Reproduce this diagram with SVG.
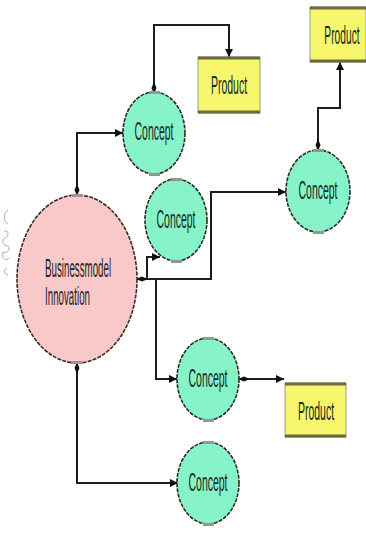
<svg xmlns="http://www.w3.org/2000/svg" width="366" height="533" viewBox="0 0 366 533">
  <style>
    .concept { fill: #86f3c8; stroke: #2a2a2a; stroke-width: 1.6; stroke-dasharray: 4 1.2; }
    .bmi { fill: #f9c9c9; stroke: #3a2a2a; stroke-width: 1.6; stroke-dasharray: 4 1.2; }
    .tab { fill: #8c9a90; }
    .tab-pink { fill: #a89090; }
    .prod { fill: #f7f76e; stroke: #9a9a80; stroke-width: 1; }
    .prod-edge { stroke: #6d6a3e; stroke-width: 3; }
    .lbl { font-family: "Liberation Sans", Arial, sans-serif; font-size: 26px; fill: #2a2222; }
    .clbl { font-family: "Liberation Sans", Arial, sans-serif; font-size: 25px; fill: #1a2a20; text-anchor: middle; }
    .wire { fill: none; stroke: #1e1e1e; stroke-width: 2; }
  </style>
  <defs>
    <marker id="arrow" markerUnits="userSpaceOnUse" markerWidth="10" markerHeight="10" refX="8" refY="4" orient="auto">
      <path d="M0,0 L8,4 L0,8 z" fill="#111"/>
    </marker>
    <marker id="knob" markerUnits="userSpaceOnUse" markerWidth="14" markerHeight="8" refX="1" refY="3" orient="auto">
      <path d="M0,3 L6,0.5 L12,3 L6,5.5 z" fill="#111"/>
    </marker>
  </defs>

  <rect width="366" height="533" fill="#ffffff"/>

  <!-- small pencil sketch at the left margin -->
  <g id="sketch" fill="none" stroke="#999" stroke-width="0.8">
    <path d="M8,210 C3,212 3,222 8,224"/>
    <path d="M4,232 C8,228 10,236 5,238 C1,240 3,246 8,246 C11,250 6,254 3,252 C1,258 7,262 9,258"/>
    <path d="M7,268 C3,270 4,274 8,275"/>
  </g>

  <g id="connectors">
    <path class="wire" d="M154,93 V25 H229 V57" marker-start="url(#knob)" marker-end="url(#arrow)"/>
    <path class="wire" d="M77,195 V133 H123" marker-start="url(#knob)" marker-end="url(#arrow)"/>
    <path class="wire" d="M318,150 V108 H340 V62" marker-start="url(#knob)" marker-end="url(#arrow)"/>
    <path class="wire" d="M137,279 H211 V192 H286" marker-start="url(#knob)" marker-end="url(#arrow)"/>
    <path class="wire" d="M147,279 V257 H160" marker-end="url(#arrow)"/>
    <path class="wire" d="M156,279 V379 H177" marker-end="url(#arrow)"/>
    <path class="wire" d="M77,363 V483 H178" marker-start="url(#knob)" marker-end="url(#arrow)"/>
    <path class="wire" d="M239,379 H284" marker-start="url(#knob)" marker-end="url(#arrow)"/>
  </g>

  <g id="bmi">
    <ellipse class="bmi" cx="77" cy="279" rx="60" ry="84"/>
    <rect class="tab-pink" x="71" y="194" width="12" height="3"/>
    <rect class="tab-pink" x="71" y="361" width="12" height="3"/>
    <text class="lbl" transform="translate(45,277) scale(0.375,1)">Businessmodel</text>
    <text class="lbl" transform="translate(45,305) scale(0.375,1)">Innovation</text>
  </g>

  <g id="concept1">
    <ellipse class="concept" cx="154" cy="133" rx="31" ry="41"/>
    <rect class="tab" x="149" y="91" width="11" height="3"/>
    <rect class="tab" x="149" y="173" width="11" height="3"/>
    <text class="clbl" transform="translate(154,140) scale(0.42,1)">Concept</text>
  </g>

  <g id="concept2">
    <ellipse class="concept" cx="176" cy="220" rx="31" ry="41"/>
    <rect class="tab" x="171" y="178" width="11" height="3"/>
    <rect class="tab" x="171" y="260" width="11" height="3"/>
    <text class="clbl" transform="translate(176,228) scale(0.42,1)">Concept</text>
  </g>

  <g id="concept3">
    <ellipse class="concept" cx="318" cy="191" rx="32" ry="41"/>
    <rect class="tab" x="313" y="149" width="11" height="3"/>
    <rect class="tab" x="313" y="231" width="11" height="3"/>
    <text class="clbl" transform="translate(318,199) scale(0.42,1)">Concept</text>
  </g>

  <g id="concept4">
    <ellipse class="concept" cx="208" cy="379" rx="31" ry="41"/>
    <rect class="tab" x="203" y="337" width="11" height="3"/>
    <rect class="tab" x="203" y="419" width="11" height="3"/>
    <text class="clbl" transform="translate(208,387) scale(0.42,1)">Concept</text>
  </g>

  <g id="concept5">
    <ellipse class="concept" cx="208" cy="483" rx="31" ry="41"/>
    <rect class="tab" x="203" y="441" width="11" height="3"/>
    <rect class="tab" x="203" y="523" width="11" height="3"/>
    <text class="clbl" transform="translate(208,491) scale(0.42,1)">Concept</text>
  </g>

  <g id="product1">
    <rect class="prod" x="198" y="57" width="62" height="56"/>
    <line class="prod-edge" x1="198" y1="58" x2="260" y2="58"/>
    <line class="prod-edge" x1="198" y1="112" x2="260" y2="112"/>
    <text class="clbl" transform="translate(229,94) scale(0.42,1)">Product</text>
  </g>

  <g id="product2">
    <rect class="prod" x="310" y="7" width="56" height="55"/>
    <line class="prod-edge" x1="310" y1="8" x2="366" y2="8"/>
    <line class="prod-edge" x1="310" y1="61" x2="366" y2="61"/>
    <text class="clbl" transform="translate(342,44) scale(0.41,1)">Product</text>
  </g>

  <g id="product3">
    <rect class="prod" x="285" y="383" width="61" height="54"/>
    <line class="prod-edge" x1="285" y1="384" x2="346" y2="384"/>
    <line class="prod-edge" x1="285" y1="436" x2="346" y2="436"/>
    <text class="clbl" transform="translate(316,420) scale(0.42,1)">Product</text>
  </g>
</svg>
